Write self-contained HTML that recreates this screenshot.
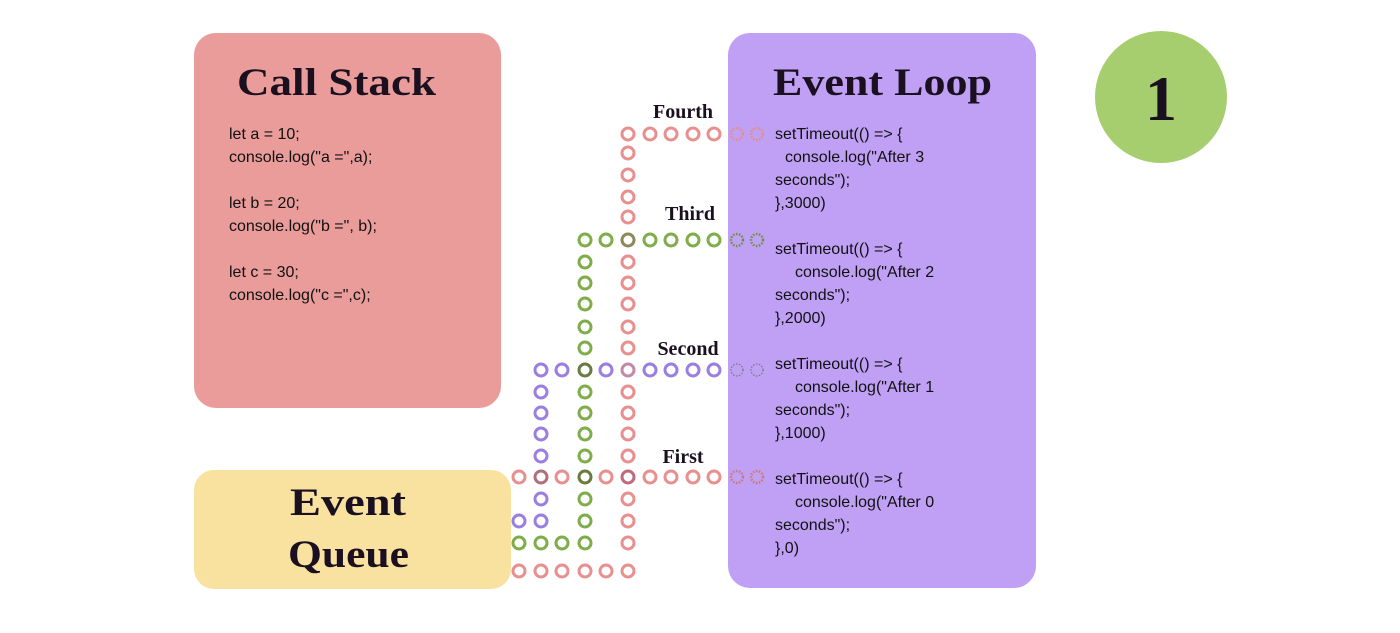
<!DOCTYPE html>
<html><head><meta charset="utf-8"><style>
html,body{margin:0;padding:0;background:#fff;width:1400px;height:633px;overflow:hidden}
svg{display:block}
.t{font-family:"Liberation Serif",serif;font-weight:bold;fill:#1a1020}
.c{font-family:"Liberation Sans",sans-serif;font-size:16px;fill:#111}
.p{fill:none;stroke:#e8908f;stroke-width:3}
.g{fill:none;stroke:#7fad4a;stroke-width:3}
.u{fill:none;stroke:#9b7fe0;stroke-width:3}
.pd{fill:none;stroke:#e98a7c;stroke-width:2.4;stroke-dasharray:1.5 1.5}
.gd{fill:none;stroke:#6d8f3a;stroke-width:2.4;stroke-dasharray:1.5 1.5}
.ud{fill:none;stroke:#777;stroke-width:1.2;stroke-dasharray:1.5 1.5}
.fd{fill:none;stroke:#c97a6a;stroke-width:2.4;stroke-dasharray:1.5 1.5}
</style></head><body>
<svg width="1400" height="633" xmlns="http://www.w3.org/2000/svg">
<rect x="194" y="33" width="307" height="375" rx="22" fill="#e99c9a"/>
<rect x="194" y="470" width="317" height="119" rx="20" fill="#f9e2a0"/>
<rect x="728" y="33" width="308" height="555" rx="22" fill="#bfa0f4"/>
<circle cx="1161" cy="97" r="66" fill="#a6cd6e"/>
<text x="1161" y="120" text-anchor="middle" class="t" font-size="64">1</text>

<text x="237" y="95" class="t" font-size="39" textLength="199" lengthAdjust="spacingAndGlyphs">Call Stack</text>
<text x="773" y="95" class="t" font-size="39" textLength="219" lengthAdjust="spacingAndGlyphs">Event Loop</text>
<text x="290" y="515" class="t" font-size="39" textLength="116" lengthAdjust="spacingAndGlyphs">Event</text>
<text x="288" y="567" class="t" font-size="39" textLength="121" lengthAdjust="spacingAndGlyphs">Queue</text>

<g class="c">
<text x="229" y="139">let a = 10;</text>
<text x="229" y="162">console.log("a =",a);</text>
<text x="229" y="208">let b = 20;</text>
<text x="229" y="231">console.log("b =", b);</text>
<text x="229" y="277">let c = 30;</text>
<text x="229" y="300">console.log("c =",c);</text>

<text x="775" y="139">setTimeout(() =&gt; {</text>
<text x="785" y="162">console.log("After 3</text>
<text x="775" y="185">seconds");</text>
<text x="775" y="208">},3000)</text>
<text x="775" y="254">setTimeout(() =&gt; {</text>
<text x="795" y="277">console.log("After 2</text>
<text x="775" y="300">seconds");</text>
<text x="775" y="323">},2000)</text>
<text x="775" y="369">setTimeout(() =&gt; {</text>
<text x="795" y="392">console.log("After 1</text>
<text x="775" y="415">seconds");</text>
<text x="775" y="438">},1000)</text>
<text x="775" y="484">setTimeout(() =&gt; {</text>
<text x="795" y="507">console.log("After 0</text>
<text x="775" y="530">seconds");</text>
<text x="775" y="553">},0)</text>
</g>

<g class="t" font-size="20" text-anchor="middle">
<text x="683" y="118">Fourth</text>
<text x="690" y="220">Third</text>
<text x="688" y="355">Second</text>
<text x="683" y="463">First</text>
</g>

<g class="p">
<circle cx="628" cy="134" r="6"/><circle cx="650" cy="134" r="6"/><circle cx="671" cy="134" r="6"/><circle cx="693" cy="134" r="6"/><circle cx="714" cy="134" r="6"/>
<circle cx="628" cy="153" r="6"/><circle cx="628" cy="175" r="6"/><circle cx="628" cy="197" r="6"/><circle cx="628" cy="217" r="6"/>
<circle cx="628" cy="262" r="6"/><circle cx="628" cy="283" r="6"/><circle cx="628" cy="304" r="6"/><circle cx="628" cy="327" r="6"/><circle cx="628" cy="348" r="6"/>
<circle cx="628" cy="392" r="6"/><circle cx="628" cy="413" r="6"/><circle cx="628" cy="434" r="6"/><circle cx="628" cy="456" r="6"/>
<circle cx="628" cy="499" r="6"/><circle cx="628" cy="521" r="6"/><circle cx="628" cy="543" r="6"/>
<circle cx="519" cy="571" r="6"/><circle cx="541" cy="571" r="6"/><circle cx="562" cy="571" r="6"/><circle cx="585" cy="571" r="6"/><circle cx="606" cy="571" r="6"/><circle cx="628" cy="571" r="6"/>
</g>
<circle class="pd" cx="737" cy="134" r="6"/><circle class="pd" cx="757" cy="134" r="6"/>

<g class="g">
<circle cx="585" cy="240" r="6"/><circle cx="606" cy="240" r="6"/><circle cx="650" cy="240" r="6"/><circle cx="671" cy="240" r="6"/><circle cx="693" cy="240" r="6"/><circle cx="714" cy="240" r="6"/>
<circle cx="585" cy="262" r="6"/><circle cx="585" cy="283" r="6"/><circle cx="585" cy="304" r="6"/><circle cx="585" cy="327" r="6"/><circle cx="585" cy="348" r="6"/>
<circle cx="585" cy="392" r="6"/><circle cx="585" cy="413" r="6"/><circle cx="585" cy="434" r="6"/><circle cx="585" cy="456" r="6"/>
<circle cx="585" cy="499" r="6"/><circle cx="585" cy="521" r="6"/><circle cx="585" cy="543" r="6"/>
<circle cx="519" cy="543" r="6"/><circle cx="541" cy="543" r="6"/><circle cx="562" cy="543" r="6"/>
</g>
<circle cx="628" cy="240" r="6" fill="none" stroke="#8a8a5a" stroke-width="3"/>
<circle class="gd" cx="737" cy="240" r="6"/><circle class="gd" cx="757" cy="240" r="6"/>

<g class="u">
<circle cx="541" cy="370" r="6"/><circle cx="562" cy="370" r="6"/><circle cx="606" cy="370" r="6"/><circle cx="650" cy="370" r="6"/><circle cx="671" cy="370" r="6"/><circle cx="693" cy="370" r="6"/><circle cx="714" cy="370" r="6"/>
<circle cx="541" cy="392" r="6"/><circle cx="541" cy="413" r="6"/><circle cx="541" cy="434" r="6"/><circle cx="541" cy="456" r="6"/>
<circle cx="541" cy="499" r="6"/><circle cx="541" cy="521" r="6"/><circle cx="519" cy="521" r="6"/>
</g>
<circle cx="585" cy="370" r="6" fill="none" stroke="#6a7a40" stroke-width="3"/>
<circle cx="628" cy="370" r="6" fill="none" stroke="#c08aa8" stroke-width="3"/>
<circle class="ud" cx="737" cy="370" r="6"/><circle class="ud" cx="757" cy="370" r="6"/>

<g class="p">
<circle cx="519" cy="477" r="6"/><circle cx="562" cy="477" r="6"/><circle cx="606" cy="477" r="6"/><circle cx="650" cy="477" r="6"/><circle cx="671" cy="477" r="6"/><circle cx="693" cy="477" r="6"/><circle cx="714" cy="477" r="6"/>
</g>
<circle cx="541" cy="477" r="6" fill="none" stroke="#b0707a" stroke-width="3"/>
<circle cx="585" cy="477" r="6" fill="none" stroke="#6a7a40" stroke-width="3"/>
<circle cx="628" cy="477" r="6" fill="none" stroke="#c06a7a" stroke-width="3"/>
<circle class="fd" cx="737" cy="477" r="6"/><circle class="fd" cx="757" cy="477" r="6"/>
</svg>
</body></html>
